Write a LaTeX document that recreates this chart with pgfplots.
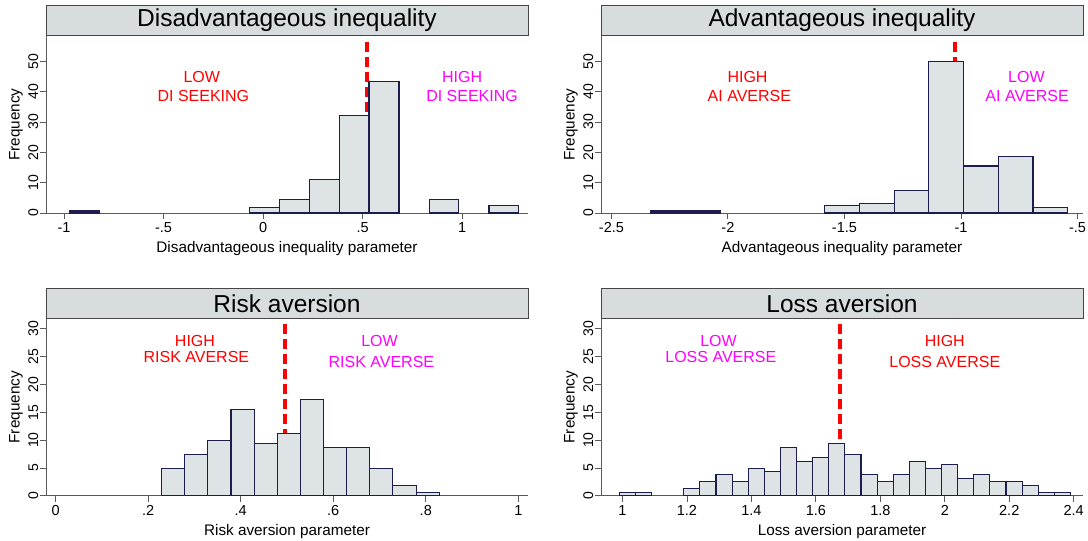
\documentclass[border=0pt]{standalone}
\usepackage{fontspec}
\setmainfont{Liberation Sans}
\usepackage{pgfplots}
\pgfplotsset{compat=1.18}
\definecolor{barfill}{RGB}{222,228,230}
\definecolor{baredge}{RGB}{28,28,78}
\definecolor{titlefill}{RGB}{215,221,223}
\definecolor{titleborder}{RGB}{70,70,70}
\definecolor{axisgray}{RGB}{90,90,90}
\definecolor{stred}{RGB}{255,0,0}
\definecolor{stmag}{RGB}{255,0,255}
\tikzset{ann/.style={font=\fontsize{16}{16}\selectfont, anchor=center, inner sep=0pt}}
\pgfplotsset{
  stata/.style={
    scale only axis, width=482pt, height=177pt,
    axis lines=left, axis line style={-, draw=axisgray, line width=0.9pt},
    tick align=outside, major tick length=6pt,
    tick style={draw=axisgray, line width=0.9pt},
    ymin=0, clip=false,
    xticklabel style={font=\fontsize{14.5}{14.5}\selectfont, text=black, anchor=north, inner sep=3.5pt},
    yticklabel style={rotate=90, anchor=south, font=\fontsize{14}{14}\selectfont, text=black, inner sep=1.5pt},
    xlabel style={font=\fontsize{15.3}{15.3}\selectfont, at={(axis description cs:0.5,-0.2)}, anchor=center},
    ylabel style={font=\fontsize{15.3}{15.3}\selectfont, at={(axis description cs:-0.0622,0.5)}, anchor=center},
    every axis title/.style={at={(axis description cs:0.5,1)}, anchor=south, draw=titleborder, fill=titlefill,
      line width=0.8pt, minimum width=482pt, minimum height=30pt, inner sep=0pt,
      font=\fontsize{24.5}{24.5}\selectfont},
    ylabel={Frequency},
  },
  bars/.style={ybar interval, fill=barfill, draw=baredge, line width=1.1pt},
  medline/.style={stred, line width=4pt, dash pattern=on 10pt off 5pt},
}
\begin{document}
\begin{tikzpicture}[x=1pt,y=1pt]
\path[use as bounding box] (0,0) rectangle (1088,541);
% Panel 1
\begin{axis}[stata, at={(46pt,328pt)}, anchor=south west,
  xmin=-1.0906, xmax=1.331, ymax=58.33,
  xtick={-1,-0.5,0,0.5,1}, xticklabels={-1,-.5,0,.5,1},
  ytick={0,10,20,30,40,50}, yticklabels={0,10,20,30,40,50},
  title={Disadvantageous inequality}, xlabel={Disadvantageous inequality parameter}]
\addplot[medline] coordinates {(0.52,56.45) (0.52,0)};
\addplot[bars] coordinates {(-0.974,0.66) (-0.823,0)};
\addplot[bars] coordinates {(-0.070,1.9) (0.081,4.3) (0.231,11.1) (0.382,32.1) (0.532,43.2) (0.683,0)};
\addplot[bars] coordinates {(0.834,4.3) (0.984,0)};
\addplot[bars] coordinates {(1.135,2.5) (1.285,0)};
\node[ann, text=stred] at (axis cs:-0.308,44.7) {LOW};
\node[ann, text=stred] at (axis cs:-0.300,38.6) {DI SEEKING};
\node[ann, text=stmag] at (axis cs:1.0,44.7) {HIGH};
\node[ann, text=stmag] at (axis cs:1.05,38.6) {DI SEEKING};
\end{axis}
% Panel 2
\begin{axis}[stata, at={(601pt,328pt)}, anchor=south west,
  xmin=-2.5447, xmax=-0.4762, ymax=58.33,
  xtick={-2.5,-2,-1.5,-1,-0.5}, xticklabels={-2.5,-2,-1.5,-1,-.5},
  ytick={0,10,20,30,40,50}, yticklabels={0,10,20,30,40,50},
  title={Advantageous inequality}, xlabel={Advantageous inequality parameter}]
\addplot[medline] coordinates {(-1.025,56.45) (-1.025,0)};
\addplot[bars] coordinates {(-2.33,0.66) (-2.181,0.66) (-2.032,0)};
\addplot[bars] coordinates {(-1.585,2.5) (-1.436,3.2) (-1.287,7.5) (-1.138,50) (-0.989,15.5) (-0.840,18.6) (-0.691,1.9) (-0.542,0)};
\node[ann, text=stred] at (axis cs:-1.916,44.7) {HIGH};
\node[ann, text=stred] at (axis cs:-1.908,38.6) {AI AVERSE};
\node[ann, text=stmag] at (axis cs:-0.719,44.7) {LOW};
\node[ann, text=stmag] at (axis cs:-0.716,38.6) {AI AVERSE};
\end{axis}
% Panel 3
\begin{axis}[stata, at={(46pt,45.2pt)}, anchor=south west,
  xmin=-0.021, xmax=1.021, ymax=31.8,
  xtick={0,0.2,0.4,0.6,0.8,1}, xticklabels={0,.2,.4,.6,.8,1},
  ytick={0,5,10,15,20,25,30}, yticklabels={0,5,10,15,20,25,30},
  title={Risk aversion}, xlabel={Risk aversion parameter}]
\addplot[medline] coordinates {(0.496,30.8) (0.496,0)};
\addplot[bars] coordinates {(0.229,4.96) (0.279,7.47) (0.329,9.92) (0.379,15.48) (0.429,9.32) (0.479,11.12) (0.529,17.33) (0.579,8.67) (0.629,8.67) (0.679,4.96) (0.729,1.85) (0.779,0.66) (0.829,0)};
\node[ann, text=stred] at (axis cs:0.301,27.85) {HIGH};
\node[ann, text=stred] at (axis cs:0.304,24.87) {RISK AVERSE};
\node[ann, text=stmag] at (axis cs:0.700,27.85) {LOW};
\node[ann, text=stmag] at (axis cs:0.704,23.97) {RISK AVERSE};
\end{axis}
% Panel 4
\begin{axis}[stata, at={(601pt,45.2pt)}, anchor=south west,
  xmin=0.9332, xmax=2.4289, ymax=31.8,
  xtick={1,1.2,1.4,1.6,1.8,2,2.2,2.4}, xticklabels={1,1.2,1.4,1.6,1.8,2,2.2,2.4},
  ytick={0,5,10,15,20,25,30}, yticklabels={0,5,10,15,20,25,30},
  title={Loss aversion}, xlabel={Loss aversion parameter}]
\addplot[medline] coordinates {(1.674,30.8) (1.674,0)};
\addplot[bars] coordinates {(0.99,0.64) (1.04,0.64) (1.09,0)};
\addplot[bars] coordinates {(1.19,1.26) (1.24,2.5) (1.29,3.77) (1.34,2.5) (1.39,4.96) (1.44,4.36) (1.49,8.67) (1.54,6.16) (1.59,6.8) (1.64,9.32) (1.69,7.47) (1.74,3.77) (1.79,2.5) (1.84,3.77) (1.89,6.16) (1.94,4.96) (1.99,5.56) (2.04,3.1) (2.09,3.77) (2.14,2.5) (2.19,2.5) (2.24,1.85) (2.29,0.64) (2.34,0.64) (2.39,0)};
\node[ann, text=stmag] at (axis cs:1.298,27.85) {LOW};
\node[ann, text=stmag] at (axis cs:1.305,24.87) {LOSS AVERSE};
\node[ann, text=stred] at (axis cs:2.0,27.85) {HIGH};
\node[ann, text=stred] at (axis cs:2.0,23.97) {LOSS AVERSE};
\end{axis}
\end{tikzpicture}
\end{document}
